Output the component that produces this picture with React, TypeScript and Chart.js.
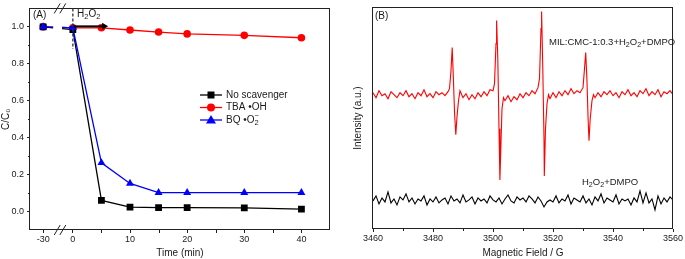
import React, { useEffect, useRef } from 'react';
import { Chart, registerables } from 'chart.js';

Chart.register(...registerables);

const FONT = '"Liberation Sans", Arial, "DejaVu Sans", sans-serif';
const INK = '#1a1a1a';

// ---------- Panel (A) data ----------
const timeMin = [-30, 0, 5, 10, 15, 20, 30, 40];
const noScavenger = [1.0, 0.985, 0.06, 0.024, 0.021, 0.021, 0.02, 0.013];
const tbaOH = [1.0, 0.995, 0.995, 0.983, 0.972, 0.962, 0.954, 0.941];
const bqO2 = [1.0, 0.995, 0.264, 0.152, 0.102, 0.102, 0.102, 0.102];
const timeTicks = [-30, 0, 10, 20, 30, 40];
const timeMinorTicks = [5, 15, 25, 35];
const ratioTicks = [0, 0.2, 0.4, 0.6, 0.8, 1.0];
const ratioMinorTicks = [0.1, 0.3, 0.5, 0.7, 0.9];
const seriesNames = ['No scavenger', 'TBA \u2022OH', 'BQ \u2022O\u2082\u207B'];

// broken time axis: the -30 min point sits just left of the break
const BREAK_POS = -5.2;
const tPos = (t: number) => (t < 0 ? BREAK_POS : t);

// ---------- Panel (B) data ----------
const fieldTicks = [3460, 3480, 3500, 3520, 3540, 3560];
const fieldMinorTicks = [3470, 3490, 3510, 3530, 3550];

const redField = [
  3460, 3461, 3462, 3463, 3464, 3465, 3466, 3467, 3468, 3469,
  3470, 3471, 3472, 3473, 3474, 3475, 3476, 3477, 3478, 3479,
  3480, 3481, 3482, 3483, 3484, 3485,
  3485.5, 3486, 3486.4, 3486.8, 3487.2, 3487.6, 3488, 3488.5, 3489,
  3490, 3491, 3492, 3493, 3494, 3495, 3496, 3497, 3498, 3499, 3500,
  3500.5, 3501, 3501.2, 3501.6, 3502, 3502.3, 3502.7, 3503, 3503.5,
  3504, 3505, 3506, 3507, 3508, 3509, 3510, 3511, 3512, 3513, 3514, 3515,
  3515.5, 3516, 3516.2, 3516.6, 3517, 3517.1, 3517.5, 3518, 3518.5,
  3519, 3520, 3521, 3522, 3523, 3524, 3525, 3526, 3527, 3528, 3529, 3530,
  3530.5, 3530.9, 3531.3, 3531.7, 3532, 3532.4, 3533, 3533.5,
  3534, 3535, 3536, 3537, 3538, 3539, 3540, 3541, 3542, 3543, 3544,
  3545, 3546, 3547, 3548, 3549, 3550, 3551, 3552, 3553, 3554,
  3555, 3556, 3557, 3558, 3559, 3560,
];
const redIntensity = [
  136, 131, 138, 133, 135, 130, 137, 134, 131, 136,
  133, 138, 132, 135, 130, 136, 133, 139, 132, 135,
  131, 137, 134, 136, 133, 137,
  140, 158, 181, 150, 115, 94, 112, 128, 138,
  131, 135, 129, 134, 130, 136, 132, 137, 133, 139, 138,
  145, 185, 208, 170, 100, 49, 90, 120, 131,
  128, 133, 127, 132, 129, 135, 131, 136, 133, 138, 135, 141,
  150, 200, 217, 160, 90, 53, 100, 125, 134,
  130, 136, 131, 137, 133, 138, 134, 140, 135, 138, 136, 141,
  160, 176, 150, 110, 88, 110, 128, 134,
  131, 136, 132, 137, 134, 138, 133, 136, 131, 137, 134,
  139, 133, 136, 132, 138, 135, 140, 133, 137, 134,
  139, 132, 137, 135, 138, 134,
];

const blackStartField = 3460; // 1 G per sample
const blackIntensity = [
  28, 33, 25, 31, 27, 37, 26, 30, 24, 32,
  29, 35, 27, 31, 25, 30, 28, 33, 24, 30,
  27, 32, 26, 29, 31, 25, 33, 28, 30, 26,
  34, 27, 29, 32, 25, 31, 28, 30, 26, 33,
  29, 27, 31, 25, 30, 34, 28, 26, 32, 29,
  31, 27, 33, 30, 26, 32, 28, 22, 27, 29,
  27, 33, 26, 30, 28, 34, 25, 31, 29, 27,
  33, 26, 30, 24, 32, 28, 35, 26, 31, 29,
  27, 34, 25, 30, 28, 30, 24, 31, 27, 38,
  26, 36, 26, 30, 19, 33, 25, 31, 27, 32,
  29,
];

// ---------- helpers ----------
type Part = { t: string; sub?: boolean; sup?: boolean; overlay?: boolean };

function drawRich(ctx: CanvasRenderingContext2D, parts: Part[], x: number, y: number, size: number, color = INK) {
  ctx.save();
  ctx.textBaseline = 'middle';
  ctx.textAlign = 'left';
  ctx.fillStyle = color;
  let cx = x;
  let lastW = 0;
  for (const p of parts) {
    const small = p.sub || p.sup;
    ctx.font = `${small ? size * 0.75 : size}px ${FONT}`;
    const dy = p.sub ? size * 0.32 : p.sup ? -size * 0.4 : 0;
    const px = p.overlay ? cx - lastW : cx;
    ctx.fillText(p.t, px, y + dy);
    const w = ctx.measureText(p.t).width;
    if (!p.overlay) {
      cx += w;
      lastW = w;
    } else {
      cx = Math.max(cx, px + w);
    }
  }
  ctx.restore();
}

function drawMarker(ctx: CanvasRenderingContext2D, style: string, x: number, y: number, color: string) {
  ctx.save();
  ctx.fillStyle = color;
  ctx.beginPath();
  if (style === 'rect') {
    ctx.rect(x - 3.5, y - 3.5, 7, 7);
  } else if (style === 'circle') {
    ctx.arc(x, y, 4, 0, Math.PI * 2);
  } else {
    ctx.moveTo(x, y - 5);
    ctx.lineTo(x + 5, y + 3.5);
    ctx.lineTo(x - 5, y + 3.5);
    ctx.closePath();
  }
  ctx.fill();
  ctx.restore();
}

function drawFrame(chart: any) {
  const { ctx, chartArea: a } = chart;
  ctx.save();
  ctx.strokeStyle = '#222';
  ctx.lineWidth = 1;
  const l = Math.round(a.left) - 0.5;
  const t = Math.round(a.top) + 0.5;
  const r = Math.round(a.right) - 0.5;
  const b = Math.round(a.bottom) - 0.5;
  ctx.strokeRect(l, t, r - l, b - t);
  ctx.restore();
}

function drawMinorX(chart: any, values: number[], len: number) {
  const { ctx, chartArea: a, scales } = chart;
  ctx.save();
  ctx.strokeStyle = '#222';
  ctx.lineWidth = 1;
  ctx.beginPath();
  for (const v of values) {
    const px = Math.round(scales.x.getPixelForValue(v)) + 0.5;
    ctx.moveTo(px, a.bottom);
    ctx.lineTo(px, a.bottom + len);
  }
  ctx.stroke();
  ctx.restore();
}

const axisFont = { family: FONT, size: 9 };
const titleFont = { family: FONT, size: 10 };

// ---------- Panel A ----------
function PanelA() {
  const ref = useRef<HTMLCanvasElement | null>(null);
  useEffect(() => {
    if (!ref.current) return;
    const pts = (vals: number[]) => timeMin.map((t, i) => ({ x: tPos(t), y: vals[i] }));
    const breakDash = (c: any) => (c.p0DataIndex === 0 ? [10, 9, 11, 200] : undefined);

    const annotA = {
      id: 'annotA',
      afterDraw(chart: any) {
        const { ctx, chartArea: a, scales } = chart;
        const xs = scales.x;
        const ys = scales.y;
        drawFrame(chart);
        drawMinorX(chart, timeMinorTicks, 3);
        // minor y ticks
        ctx.save();
        ctx.strokeStyle = '#222';
        ctx.lineWidth = 1;
        ctx.beginPath();
        for (const v of ratioMinorTicks) {
          const py = Math.round(ys.getPixelForValue(v)) + 0.5;
          ctx.moveTo(a.left, py);
          ctx.lineTo(a.left - 2, py);
        }
        ctx.stroke();
        // axis break marks
        const bx = 60;
        ctx.lineWidth = 1;
        ctx.beginPath();
        for (const yy of [a.top, a.bottom]) {
          for (const off of [-2.8, 2.8]) {
            ctx.moveTo(bx + off - 3, yy + 5);
            ctx.lineTo(bx + off + 3, yy - 5);
          }
        }
        ctx.stroke();
        // dashed vertical line at t = 0
        const x0 = xs.getPixelForValue(0);
        ctx.setLineDash([3, 2]);
        ctx.lineWidth = 1.3;
        ctx.strokeStyle = '#333';
        ctx.beginPath();
        ctx.moveTo(x0, a.top);
        ctx.lineTo(x0, ys.getPixelForValue(0.88));
        ctx.stroke();
        ctx.setLineDash([]);
        // H2O2 arrow
        const ay = ys.getPixelForValue(1.0) - 0.5;
        const ax1 = xs.getPixelForValue(5.3);
        ctx.strokeStyle = '#000';
        ctx.fillStyle = '#000';
        ctx.lineWidth = 2;
        ctx.beginPath();
        ctx.moveTo(x0 + 1, ay);
        ctx.lineTo(ax1, ay);
        ctx.stroke();
        ctx.beginPath();
        ctx.moveTo(ax1 + 5, ay);
        ctx.lineTo(ax1 - 1, ay - 3.5);
        ctx.lineTo(ax1 - 1, ay + 3.5);
        ctx.closePath();
        ctx.fill();
        ctx.restore();

        drawRich(ctx, [{ t: '(A)' }], 33, 15, 10);
        drawRich(ctx, [{ t: 'H' }, { t: '2', sub: true }, { t: 'O' }, { t: '2', sub: true }], 77, 14, 10);

        // legend
        const colors = ['#000000', '#ff0000', '#0000ff'];
        const styles = ['rect', 'circle', 'triangle'];
        const rows = [95, 107.5, 120];
        const labels: Part[][] = [
          [{ t: 'No scavenger' }],
          [{ t: 'TBA \u2022OH' }],
          [{ t: 'BQ \u2022O' }, { t: '2', sub: true }, { t: '\u2212', sup: true, overlay: true }],
        ];
        for (let i = 0; i < 3; i++) {
          ctx.save();
          ctx.strokeStyle = colors[i];
          ctx.lineWidth = 1.3;
          ctx.beginPath();
          ctx.moveTo(200, rows[i]);
          ctx.lineTo(222, rows[i]);
          ctx.stroke();
          ctx.restore();
          drawMarker(ctx, styles[i], 211, rows[i], colors[i]);
          drawRich(ctx, labels[i], 226, rows[i], 10);
        }
      },
    };

    const chart = new Chart(ref.current, {
      type: 'line',
      data: {
        datasets: [
          {
            label: seriesNames[0],
            data: pts(noScavenger),
            borderColor: '#000000',
            backgroundColor: '#000000',
            pointStyle: 'rect',
            pointRadius: 4.8,
            pointBorderWidth: 0,
            borderWidth: 1.3,
            order: 1,
            segment: { borderDash: breakDash },
          },
          {
            label: seriesNames[1],
            data: pts(tbaOH),
            borderColor: '#ff0000',
            backgroundColor: '#ff0000',
            pointStyle: 'circle',
            pointRadius: 3.8,
            pointBorderWidth: 0,
            borderWidth: 1.3,
            order: 2,
            segment: { borderDash: breakDash },
          },
          {
            label: seriesNames[2],
            data: pts(bqO2),
            borderColor: '#0000ff',
            backgroundColor: '#0000ff',
            pointStyle: 'triangle',
            pointRadius: 4.6,
            pointBorderWidth: 0,
            borderWidth: 1.3,
            order: 0,
            segment: { borderDash: breakDash },
          },
        ],
      },
      options: {
        responsive: false,
        maintainAspectRatio: false,
        animation: false,
        devicePixelRatio: 1,
        layout: { padding: { top: 7, right: 10, left: 0, bottom: 0 } },
        plugins: { legend: { display: false }, tooltip: { enabled: false } },
        scales: {
          x: {
            type: 'linear',
            min: -7.5,
            max: 45,
            afterBuildTicks: (s: any) => {
              s.ticks = timeTicks.map((t) => ({ value: tPos(t) }));
            },
            ticks: {
              autoSkip: false,
              maxRotation: 0,
              padding: 1,
              color: INK,
              font: axisFont,
              callback: (v: any) => {
                const t = timeTicks.find((tt) => Math.abs(tPos(tt) - Number(v)) < 1e-6);
                return t === undefined ? '' : String(t);
              },
            },
            grid: { drawOnChartArea: false, drawTicks: true, tickLength: 3, color: '#222' },
            border: { display: false },
            title: { display: true, text: 'Time (min)', color: INK, font: titleFont, padding: { top: 0, bottom: 0 } },
            afterFit: (s: any) => {
              s.height = 29;
            },
          },
          y: {
            type: 'linear',
            min: -0.1,
            max: 1.1,
            afterBuildTicks: (s: any) => {
              s.ticks = ratioTicks.map((v) => ({ value: v }));
            },
            ticks: {
              padding: 3,
              color: INK,
              font: axisFont,
              callback: (v: any) => Number(v).toFixed(1),
            },
            grid: { drawOnChartArea: false, drawTicks: true, tickLength: 3, color: '#222' },
            border: { display: false },
            title: { display: true, text: 'C/C\u2080', color: INK, font: titleFont, padding: { top: 0, bottom: 0 } },
            afterFit: (s: any) => {
              s.width = 30;
            },
          },
        },
      },
      plugins: [annotA],
    } as any);
    return () => chart.destroy();
  }, []);
  return <canvas ref={ref} width={340} height={259} style={{ position: 'absolute', left: 0, top: 0 }} />;
}

// ---------- Panel B ----------
function PanelB() {
  const ref = useRef<HTMLCanvasElement | null>(null);
  useEffect(() => {
    if (!ref.current) return;
    const redPts = redField.map((f, i) => ({ x: f, y: redIntensity[i] }));
    const blackPts = blackIntensity.map((v, i) => ({ x: blackStartField + i, y: v }));

    const annotB = {
      id: 'annotB',
      afterDraw(chart: any) {
        const { ctx } = chart;
        drawFrame(chart);
        drawMinorX(chart, fieldMinorTicks, 2);
        drawRich(ctx, [{ t: '(B)' }], 35, 16, 10);
        drawRich(
          ctx,
          [{ t: 'MIL:CMC-1:0.3+H' }, { t: '2', sub: true }, { t: 'O' }, { t: '2', sub: true }, { t: '+DMPO' }],
          209,
          42,
          9.5
        );
        drawRich(ctx, [{ t: 'H' }, { t: '2', sub: true }, { t: 'O' }, { t: '2', sub: true }, { t: '+DMPO' }], 242, 182, 9.5);
      },
    };

    const chart = new Chart(ref.current, {
      type: 'line',
      data: {
        datasets: [
          {
            label: 'MIL:CMC-1:0.3+H2O2+DMPO',
            data: redPts,
            borderColor: '#ff0000',
            borderWidth: 1.1,
            pointRadius: 0,
            tension: 0,
          },
          {
            label: 'H2O2+DMPO',
            data: blackPts,
            borderColor: '#000000',
            borderWidth: 1.1,
            pointRadius: 0,
            tension: 0,
          },
        ],
      },
      options: {
        responsive: false,
        maintainAspectRatio: false,
        animation: false,
        devicePixelRatio: 1,
        layout: { padding: { top: 7, right: 12, left: 0, bottom: 0 } },
        plugins: { legend: { display: false }, tooltip: { enabled: false } },
        scales: {
          x: {
            type: 'linear',
            min: 3460,
            max: 3560,
            afterBuildTicks: (s: any) => {
              s.ticks = fieldTicks.map((v) => ({ value: v }));
            },
            ticks: {
              autoSkip: false,
              maxRotation: 0,
              padding: 1,
              color: INK,
              font: axisFont,
              callback: (v: any) => String(v),
            },
            grid: { drawOnChartArea: false, drawTicks: true, tickLength: 3, color: '#222' },
            border: { display: false },
            title: { display: true, text: 'Magnetic Field / G', color: INK, font: titleFont, padding: { top: 0, bottom: 0 } },
            afterFit: (s: any) => {
              s.height = 30;
            },
          },
          y: {
            type: 'linear',
            min: 0,
            max: 221.5,
            ticks: { display: false },
            grid: { display: false },
            border: { display: false },
            title: { display: true, text: 'Intensity (a.u.)', color: INK, font: titleFont, padding: { top: 12, bottom: 0 } },
            afterFit: (s: any) => {
              s.width = 33;
            },
          },
        },
      },
      plugins: [annotB],
    } as any);
    return () => chart.destroy();
  }, []);
  return <canvas ref={ref} width={345} height={259} style={{ position: 'absolute', left: 340, top: 0 }} />;
}

export default function App() {
  return (
    <div style={{ position: 'absolute', left: 0, top: 0, width: 685, height: 259, background: '#ffffff', overflow: 'hidden' }}>
      <PanelA />
      <PanelB />
    </div>
  );
}
